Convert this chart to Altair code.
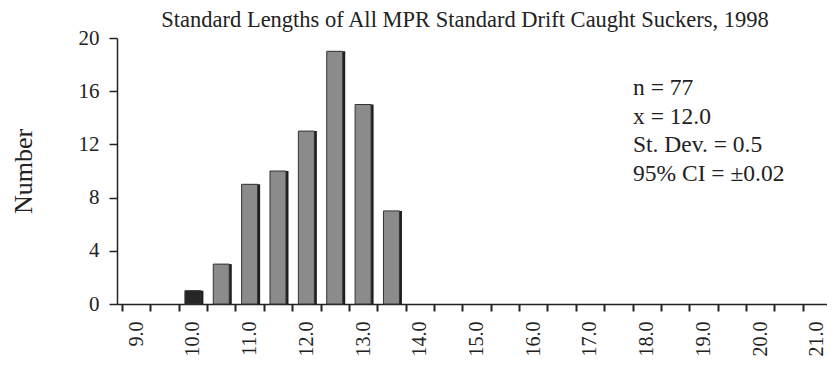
import altair as alt
import pandas as pd

lengths = [9.0, 9.5, 10.0, 10.5, 11.0, 11.5, 12.0, 12.5, 13.0, 13.5, 14.0, 14.5,
           15.0, 15.5, 16.0, 16.5, 17.0, 17.5, 18.0, 18.5, 19.0, 19.5, 20.0, 20.5, 21.0]
counts = [0, 0, 1, 3, 9, 10, 13, 19, 15, 7, 0, 0,
          0, 0, 0, 0, 0, 0, 0, 0, 0, 0, 0, 0, 0]
label_values = [9.0, 10.0, 11.0, 12.0, 13.0, 14.0, 15.0, 16.0, 17.0, 18.0, 19.0, 20.0, 21.0]
y_ticks = [0, 4, 8, 12, 16, 20]
stats_lines = ["n = 77", "x = 12.0", "St. Dev. = 0.5", "95% CI = \u00b10.02"]
title_text = "Standard Lengths of All MPR Standard Drift Caught Suckers, 1998"

df = pd.DataFrame({"size_cm": lengths, "num": counts})

FONT = "Liberation Serif"
INK = "#222"
W = 710
X0, X1 = 8.75, 21.09
boundaries = [v - 0.25 for v in lengths]

xscale = alt.Scale(domain=[X0, X1], nice=False, zero=False)
yscale = alt.Scale(domain=[0, 20], nice=False)

tick_axis = alt.Axis(
    orient="bottom", values=boundaries, labels=False, ticks=True, tickSize=7,
    tickWidth=2, tickColor=INK, domain=True, domainColor=INK, domainWidth=1.5,
    title=None, grid=False,
)
label_axis = alt.Axis(
    orient="bottom", values=label_values, format=".1f",
    labelAngle=270, labelAlign="right", labelBaseline="middle",
    labelOverlap=False, labelBound=False, labelFlush=False,
    ticks=False, domain=False, labelPadding=17, title=None, grid=False,
    labelFont=FONT, labelFontSize=20, labelColor=INK,
)
yaxis = alt.Axis(
    values=y_ticks, tickSize=8, tickWidth=1.5, labelPadding=10, grid=False,
    title="Number", titleFont=FONT, titleFontSize=26, titleFontWeight="normal",
    titleColor=INK, titlePadding=42,
    labelFont=FONT, labelFontSize=21, labelColor=INK,
    domainColor=INK, domainWidth=1.5, tickColor=INK,
)

base = alt.Chart(df)
nonzero = base.transform_filter(alt.datum.num > 0)
shadow = nonzero.mark_bar(size=16, xOffset=2.5, color="#1e1e1e").encode(
    x=alt.X("size_cm:Q", scale=xscale, axis=tick_axis),
    y=alt.Y("num:Q", scale=yscale, axis=yaxis),
)
bars = nonzero.mark_bar(size=16, stroke="#333", strokeWidth=1).encode(
    x=alt.X("size_cm:Q", scale=xscale, axis=label_axis),
    y=alt.Y("num:Q", scale=yscale),
    color=alt.condition(alt.datum.size_cm == 10.0, alt.value("#262626"), alt.value("#8b8b8b")),
)
stats = alt.Chart(pd.DataFrame({"t": [stats_lines]})).mark_text(
    align="left", baseline="middle", font=FONT, fontSize=23.5, lineHeight=28.5, color=INK
).encode(x=alt.value(516), y=alt.value(50), text="t")
title = alt.Chart(pd.DataFrame({"t": [title_text]})).mark_text(
    align="center", baseline="alphabetic", font=FONT, fontSize=22.5, color=INK
).encode(x=alt.value(348), y=alt.value(-11), text="t")

chart = alt.layer(shadow, bars, stats, title).resolve_axis(x="independent").properties(
    width=W, height=266,
    padding={"left": 109, "top": 30, "right": 0, "bottom": 53},
    autosize="none",
).configure_view(stroke=None)

chart.save("out.html", embed_options={"renderer": "svg", "actions": False})
